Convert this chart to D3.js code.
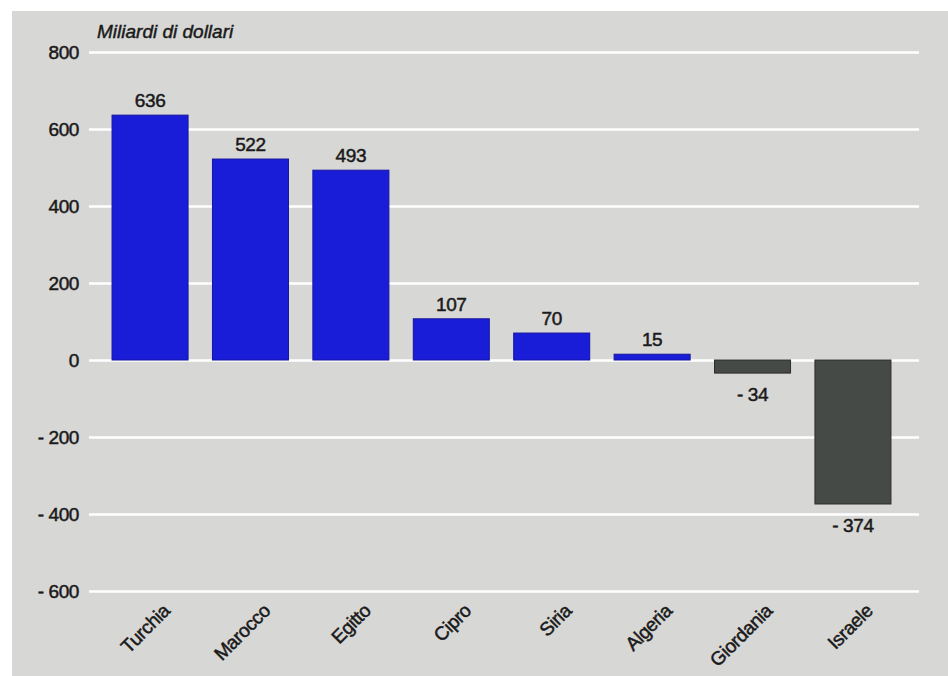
<!DOCTYPE html>
<html>
<head>
<meta charset="utf-8">
<script src="https://cdn.jsdelivr.net/npm/d3@7"></script>
<style>
  html, body { margin: 0; padding: 0; background: #ffffff; }
  svg { display: block; }
  text { font-family: "Liberation Sans", Arial, Helvetica, sans-serif; letter-spacing: -0.4px; }
</style>
</head>
<body>
<svg id="chart" width="948" height="676"></svg>
<script>
const categories = ["Turchia", "Marocco", "Egitto", "Cipro", "Siria", "Algeria", "Giordania", "Israele"];
const values = [636, 522, 493, 107, 70, 15, -34, -374];
const tickValues = [800, 600, 400, 200, 0, -200, -400, -600];
const unitLabel = "Miliardi di dollari";

const svg = d3.select("#chart");
const W = 948, H = 676;
const ink = "#1a1a1a";

// scanned panel background
svg.append("rect").attr("x", 12).attr("y", 11).attr("width", W - 12).attr("height", H - 11).attr("fill", "#d7d7d5");

const y = d3.scaleLinear().domain([-600, 800]).range([591, 52]);
const x = d3.scaleBand().domain(categories).range([100, 903]).paddingInner(0.243).paddingOuter(0.12);

const fmt = v => v < 0 ? "- " + Math.abs(v) : String(v);

// gridlines + tick labels via axis
const yAxis = d3.axisLeft(y).tickValues(tickValues).tickSize(-(919 - 89)).tickFormat(fmt);
const gAxis = svg.append("g").attr("transform", "translate(89,0)").call(yAxis);
gAxis.select(".domain").remove();
gAxis.selectAll(".tick line").attr("stroke", "#ffffff").attr("stroke-width", 2.4);
gAxis.selectAll(".tick text")
  .attr("fill", ink).attr("stroke", ink).attr("stroke-width", 0.5)
  .attr("font-size", 19).attr("x", -10).attr("dy", "0.36em");

// bars
svg.append("g").selectAll("rect").data(values).join("rect")
  .attr("x", (d, i) => x(categories[i]))
  .attr("width", x.bandwidth())
  .attr("y", d => d >= 0 ? y(d) : y(0))
  .attr("height", d => Math.abs(y(d) - y(0)))
  .attr("fill", d => d >= 0 ? "#1a1dd8" : "#464a47")
  .attr("stroke", d => d >= 0 ? "#1414a0" : "#2c2c2c")
  .attr("stroke-width", 1);

// value labels
svg.append("g").selectAll("text").data(values).join("text")
  .attr("x", (d, i) => x(categories[i]) + x.bandwidth() / 2)
  .attr("y", d => d >= 0 ? y(d) - 8 : y(d) + 28)
  .attr("text-anchor", "middle")
  .attr("font-size", 19)
  .attr("fill", ink).attr("stroke", ink).attr("stroke-width", 0.5)
  .text(fmt);

// category labels, rotated
svg.append("g").selectAll("text").data(categories).join("text")
  .attr("transform", d => `translate(${x(d) + x.bandwidth() / 2 + 21},612) rotate(-45)`)
  .attr("text-anchor", "end")
  .attr("font-size", 19)
  .attr("fill", ink).attr("stroke", ink).attr("stroke-width", 0.5)
  .text(d => d);

// unit label
svg.append("text")
  .attr("x", 97).attr("y", 38)
  .attr("font-size", 19)
  .attr("font-style", "italic")
  .style("letter-spacing", "0px")
  .attr("fill", ink).attr("stroke", ink).attr("stroke-width", 0.45)
  .text(unitLabel);
</script>
</body>
</html>
